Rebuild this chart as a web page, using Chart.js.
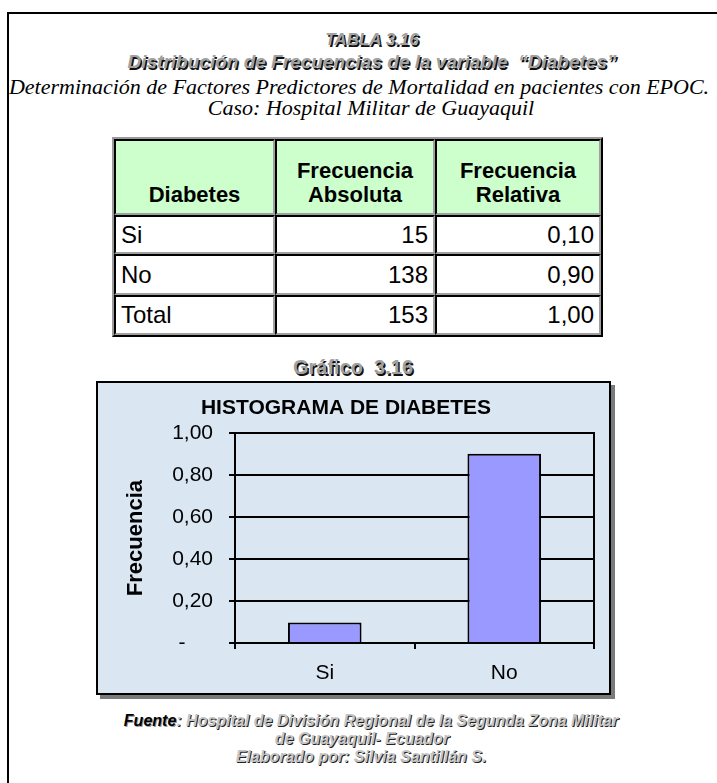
<!DOCTYPE html>
<html>
<head>
<meta charset="utf-8">
<script src="https://cdn.jsdelivr.net/npm/chart.js@4/dist/chart.umd.min.js"></script>
<style>
  html, body { margin:0; padding:0; background:#fff; }
  body { width:717px; height:783px; position:relative; overflow:hidden; font-family:"Liberation Sans", Arial, sans-serif; }
  .frame { position:absolute; left:7px; top:12px; width:760px; height:800px; border-left:2px solid #000; border-top:2px solid #000; }
  .line { position:absolute; width:800px; text-align:center; white-space:pre; }
  .emb { color:#a0a0a0; font-weight:bold; font-style:italic; text-shadow:1.5px 1.5px 0 #111; }
  .serif { font-family:"Liberation Serif", "Times New Roman", serif; font-style:italic; color:#000; }
  table.t { position:absolute; left:112px; top:137px; width:487px; height:198px; border-collapse:separate; border-spacing:0; table-layout:fixed;
            border:2px solid; border-color:#9a9a9a #000 #000 #9a9a9a; }
  table.t td { border:2px solid; border-color:#000 #a0a0a0 #a0a0a0 #000; padding:0 5px; font-size:24px; color:#000; }
  table.t tr.h td { background:#ccffcc; font-weight:bold; font-size:22px; text-align:center; vertical-align:bottom; padding-bottom:6px; line-height:24px; }
  table.t td.r { text-align:right; }
  .box { position:absolute; left:96px; top:381px; width:511px; height:310px; border:2px solid #000; background:#dbe6f3; box-shadow:4px 4px 0 #7a7a7a; }
  .box canvas { position:absolute; left:0; top:0; }
  .foot { font-size:16px; font-style:italic; }
  .foot b { color:#000; text-shadow:1px 1px 0 #999; }
  .foot .g { color:#c4c4c4; font-weight:bold; text-shadow:1px 1px 0 #222; }
</style>
</head>
<body>
<div class="frame"></div>

<div class="line emb" style="left:-28px; top:29px; font-size:17px; line-height:22px;">TABLA 3.16</div>
<div class="line emb" style="left:-28px; top:51px; font-size:19px; line-height:22px;">Distribución de Frecuencias de la variable  “Diabetes”</div>
<div class="line serif" style="left:-41px; top:74px; font-size:22px; line-height:26px;">Determinación de Factores Predictores de Mortalidad en pacientes con EPOC.</div>
<div class="line serif" style="left:-29px; top:95px; font-size:22px; line-height:26px;">Caso: Hospital Militar de Guayaquil</div>

<table class="t" id="tbl">
  <colgroup><col style="width:161px"><col style="width:160px"><col style="width:166px"></colgroup>
  <tr class="h" style="height:76px"><td>Diabetes</td><td>Frecuencia<br>Absoluta</td><td>Frecuencia<br>Relativa</td></tr>
</table>

<div class="line emb" style="left:-47px; top:355px; font-size:20px; line-height:24px; font-style:normal;">Gráfico  3.16</div>

<div class="box"><canvas id="c" width="511" height="310"></canvas></div>

<div class="line foot" style="left:-29px; top:712px; line-height:18px;"><b>Fuente</b><span class="g">: Hospital de División Regional de la Segunda Zona Militar</span></div>
<div class="line foot" style="left:-38px; top:730px; line-height:18px;"><span class="g">de Guayaquil- Ecuador</span></div>
<div class="line foot" style="left:-39px; top:748px; line-height:18px;"><span class="g">Elaborado por: Silvia Santillán S.</span></div>

<script>
// ---- data ----
const categories = ['Si', 'No'];
const absFreq = [15, 138];
const relFreqTable = ['0,10', '0,90'];
const totalAbs = 153;
const totalRel = '1,00';
const relFreq = [0.098, 0.902];          // bar heights
const yTickValues = [0, 0.2, 0.4, 0.6, 0.8, 1.0];
const yTickLabels = ['-\u2007\u2007\u2009', '0,20', '0,40', '0,60', '0,80', '1,00'];

// ---- table body ----
const tbl = document.getElementById('tbl');
const rowHeights = [39, 41, 40];
const rows = categories.map((c, i) => [c, absFreq[i], relFreqTable[i]]);
rows.push(['Total', totalAbs, totalRel]);
rows.forEach((r, i) => {
  const tr = document.createElement('tr');
  tr.style.height = rowHeights[i] + 'px';
  tr.innerHTML = '<td>' + r[0] + '</td><td class="r">' + r[1] + '</td><td class="r">' + r[2] + '</td>';
  tbl.appendChild(tr);
});

// ---- chart ----
const plotBorder = {
  id: 'plotBorder',
  beforeDatasetsDraw(chart) {
    const a = chart.chartArea, ctx = chart.ctx;
    ctx.save();
    ctx.strokeStyle = '#000';
    ctx.lineWidth = 2;
    ctx.strokeRect(Math.round(a.left), Math.round(a.top), Math.round(a.right - a.left), Math.round(a.bottom - a.top));
    ctx.restore();
  }
};

const FONT = '"Liberation Sans", Arial, sans-serif';
new Chart(document.getElementById('c'), {
  type: 'bar',
  data: {
    labels: categories,
    datasets: [{
      data: relFreq,
      backgroundColor: '#9999ff',
      borderColor: '#000',
      borderWidth: 2,
      borderSkipped: 'bottom',
      barPercentage: 0.41,
      categoryPercentage: 1.0
    }]
  },
  options: {
    responsive: false,
    animation: false,
    devicePixelRatio: 1,
    layout: { padding: { left: 0, right: 15, top: 0, bottom: 0 } },
    plugins: {
      legend: { display: false },
      tooltip: { enabled: false },
      title: {
        display: true,
        text: 'HISTOGRAMA DE DIABETES',
        color: '#000',
        font: { family: FONT, size: 21, weight: 'bold', lineHeight: 1.2 },
        padding: { top: 13, bottom: 12 }
      }
    },
    scales: {
      x: {
        grid: { display: true, drawOnChartArea: false, drawTicks: true, tickLength: 6, color: '#000', lineWidth: 2, offset: true },
        border: { display: true, color: '#000', width: 2 },
        ticks: { color: '#000', font: { family: FONT, size: 21 }, padding: 12 },
        afterFit(s) { s.height = 50; }
      },
      y: {
        min: 0, max: 1,
        afterBuildTicks(s) { s.ticks = yTickValues.map(v => ({ value: v })); },
        ticks: {
          color: '#000',
          font: { family: FONT, size: 21 },
          padding: 16,
          callback(v) { const i = yTickValues.findIndex(t => Math.abs(t - v) < 1e-9); return i >= 0 ? yTickLabels[i] : ''; }
        },
        grid: { color: '#000', lineWidth: 2, tickLength: 6 },
        border: { display: true, color: '#000', width: 2 },
        title: {
          display: true,
          text: 'Frecuencia',
          color: '#000',
          font: { family: FONT, size: 22, weight: 'bold', lineHeight: 1.2 },
          padding: { top: 25, bottom: 0 }
        },
        afterFit(s) { s.width = 137; }
      }
    }
  },
  plugins: [plotBorder]
});
</script>
</body>
</html>
